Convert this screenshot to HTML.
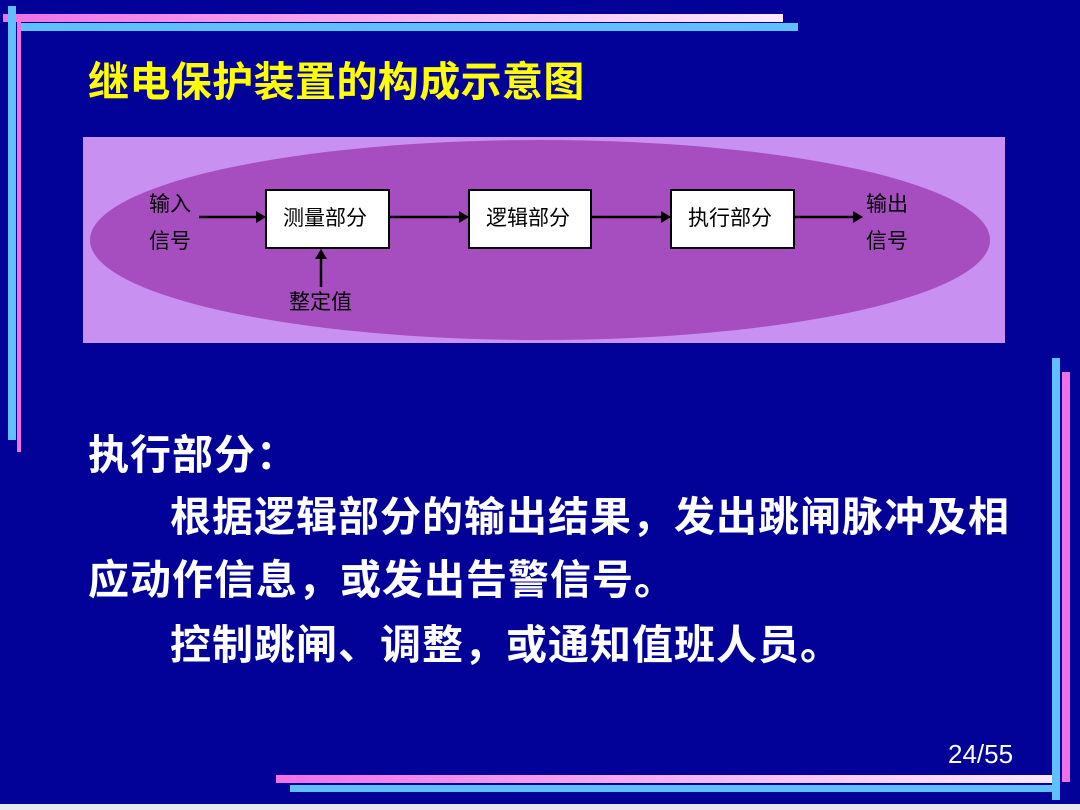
<!DOCTYPE html>
<html><head><meta charset="utf-8"><style>
body{margin:0;width:1080px;height:810px;background:#020299;position:relative;overflow:hidden;font-family:"Liberation Sans","Noto Sans CJK SC",sans-serif}
.a{position:absolute}
.t{position:absolute;white-space:nowrap;font-weight:bold;color:#fff;font-size:41px;line-height:1;letter-spacing:1px}
</style></head><body>
<div class="a" style="left:0;top:804px;width:1080px;height:6px;background:#e8e8f0"></div>
<div class="a" style="left:3px;top:14px;width:780px;height:8px;background:linear-gradient(90deg,#f070e8,#f8c8f4 70%,#fce8fa)"></div>
<div class="a" style="left:20px;top:23px;width:778px;height:8px;background:#60c0ff"></div>
<div class="a" style="left:8px;top:6px;width:8px;height:434px;background:#60c0ff"></div>
<div class="a" style="left:17px;top:22px;width:4px;height:430px;background:#f070e8"></div>
<div class="a" style="left:1052px;top:358px;width:8px;height:442px;background:#60c0ff"></div>
<div class="a" style="left:1062px;top:372px;width:8px;height:410px;background:#f070e8"></div>
<div class="a" style="left:276px;top:775px;width:776px;height:8px;background:linear-gradient(90deg,#f070e8,#f8c8f4 70%,#fce8fa)"></div>
<div class="a" style="left:290px;top:785px;width:770px;height:7px;background:#60c0ff"></div>
<div class="t" style="left:88px;top:62px;color:#ffff00;letter-spacing:0.4px">继电保护装置的构成示意图</div>
<svg class="a" style="left:83px;top:137px" width="922" height="206">
<rect width="922" height="206" fill="#c890f0"/>
<ellipse cx="457" cy="103" rx="450" ry="100" fill="#a64dbf"/>
<g fill="#fff" stroke="#000" stroke-width="2">
<rect x="183" y="53" width="123" height="58"/><rect x="386" y="53" width="122" height="58"/><rect x="588" y="53" width="123" height="58"/></g>
<g stroke="#000" stroke-width="2.5"><line x1="116" y1="80" x2="175" y2="80"/><line x1="306" y1="80" x2="378" y2="80"/><line x1="508" y1="80" x2="580" y2="80"/><line x1="711" y1="80" x2="770" y2="80"/><line x1="238" y1="150" x2="238" y2="120"/></g>
<g fill="#000"><path d="M183 80l-10-6v12z"/><path d="M386 80l-10-6v12z"/><path d="M588 80l-10-6v12z"/><path d="M780 80l-10-6v12z"/><path d="M238 112l-6 10h12z"/></g>
<g font-size="21" fill="#000" font-family="Liberation Sans,Noto Sans CJK SC,sans-serif">
<text x="200" y="88">测量部分</text><text x="403" y="88">逻辑部分</text><text x="605" y="88">执行部分</text>
<text x="66" y="74">输入</text><text x="66" y="111">信号</text>
<text x="783" y="74">输出</text><text x="783" y="111">信号</text>
<text x="206" y="172">整定值</text></g>
</svg>
<div class="t" style="left:88px;top:435px">执行部分：</div>
<div class="t" style="left:170px;top:497px">根据逻辑部分的输出结果，发出跳闸脉冲及相</div>
<div class="t" style="left:88px;top:560px">应动作信息，或发出告警信号。</div>
<div class="t" style="left:170px;top:625px">控制跳闸、调整，或通知值班人员。</div>
<div class="t" style="left:948px;top:741px;font-size:26px;font-weight:normal;letter-spacing:0">24/55</div>
</body></html>
